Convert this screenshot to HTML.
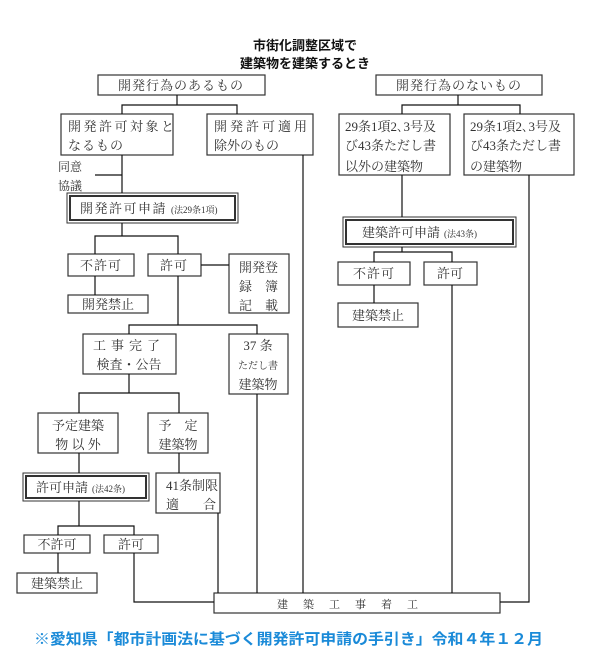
<!DOCTYPE html>
<html><head><meta charset="utf-8"><style>
html,body{margin:0;padding:0;background:#fff;}
svg{display:block;}
text{font-family:"Liberation Serif","Noto Serif CJK SC","Noto Sans CJK JP",serif;font-size:13px;fill:#333;}
.t{font-family:"Liberation Sans","Noto Sans CJK JP",sans-serif;font-weight:bold;fill:#111;font-size:13px;}
.s{font-size:9px;}
.b{font-family:"Liberation Sans","Noto Sans CJK JP",sans-serif;font-weight:bold;fill:#1a8ad8;font-size:15px;}
</style></head><body>
<svg width="609" height="669" viewBox="0 0 609 669" xmlns="http://www.w3.org/2000/svg">
<g fill="#fff" stroke="#333" stroke-width="1.2">
<rect x="98" y="75" width="167" height="20"/>
<rect x="61" y="114" width="112" height="41"/>
<rect x="207" y="114" width="106" height="41"/>
<rect x="67" y="193" width="171" height="30" stroke-width="1"/>
<rect x="70" y="196" width="165" height="24" stroke-width="2"/>
<rect x="68" y="254" width="66" height="22"/>
<rect x="148" y="254" width="53" height="22"/>
<rect x="229" y="254" width="60" height="59"/>
<rect x="68" y="295" width="80" height="18"/>
<rect x="83" y="334" width="93" height="40"/>
<rect x="229" y="334" width="59" height="60"/>
<rect x="38" y="413" width="80" height="40"/>
<rect x="148" y="413" width="60" height="40"/>
<rect x="23" y="473" width="126" height="28" stroke-width="1"/>
<rect x="26" y="476" width="120" height="22" stroke-width="2"/>
<rect x="156" y="473" width="64" height="40"/>
<rect x="24" y="535" width="66" height="18"/>
<rect x="104" y="535" width="54" height="18"/>
<rect x="17" y="573" width="80" height="20"/>
<rect x="214" y="593" width="286" height="20"/>
<rect x="376" y="75" width="166" height="20"/>
<rect x="339" y="114" width="111" height="61"/>
<rect x="464" y="114" width="110" height="61"/>
<rect x="343" y="217" width="173" height="30" stroke-width="1"/>
<rect x="346" y="220" width="167" height="24" stroke-width="2"/>
<rect x="338" y="262" width="72" height="23"/>
<rect x="424" y="262" width="53" height="23"/>
<rect x="338" y="303" width="80" height="24"/>
</g>
<g fill="none" stroke="#111" stroke-width="1.2">
<path d="M177 95V105M122 114V105H237V114"/>
<path d="M122 155V193M95 175H122"/>
<path d="M122 223V236M95 254V236H178V254"/>
<path d="M201 265H229M95 276V295"/>
<path d="M178 276V325M129 334V325H257V334"/>
<path d="M303 155V593"/>
<path d="M129 374V393M79 413V393H179V413"/>
<path d="M79 453V473M179 453V473"/>
<path d="M79 501V526M58 535V526H134V535"/>
<path d="M58 553V573M134 553V602H214"/>
<path d="M218 513V593M257 394V593"/>
<path d="M458 95V105M402 114V105H520V114"/>
<path d="M402 175V217M402 247V252M374 262V252H452V262"/>
<path d="M374 285V303M452 285V593"/>
<path d="M529 175V602H500"/>
</g>
<text class="t" x="305" y="50" text-anchor="middle">市街化調整区域で</text>
<text class="t" x="305" y="68" text-anchor="middle">建築物を建築するとき</text>
<text x="181" y="90" text-anchor="middle" letter-spacing="1">開発行為のあるもの</text>
<text x="68" y="131" letter-spacing="2.5">開発許可対象と</text>
<text x="68" y="150" letter-spacing="1">なるもの</text>
<text x="214" y="131" letter-spacing="3">開発許可適用</text>
<text x="214" y="150">除外のもの</text>
<text x="58" y="171" style="font-size:12px">同意</text>
<text x="58" y="190" style="font-size:12px">協議</text>
<text x="80" y="213" letter-spacing="1.5">開発許可申請<tspan class="s" dx="4" style="letter-spacing:0">(法29条1項)</tspan></text>
<text x="101" y="270" text-anchor="middle" letter-spacing="1">不許可</text>
<text x="174" y="270" text-anchor="middle" letter-spacing="1">許可</text>
<text x="239" y="272">開発登</text>
<text x="239" y="291">録　簿</text>
<text x="239" y="310">記　載</text>
<text x="108" y="309" text-anchor="middle">開発禁止</text>
<text x="129" y="350" text-anchor="middle" letter-spacing="5">工事完了</text>
<text x="129" y="369" text-anchor="middle">検査・公告</text>
<text x="258" y="350" text-anchor="middle">37 条</text>
<text x="258" y="369" text-anchor="middle" style="font-size:10px">ただし書</text>
<text x="258" y="389" text-anchor="middle">建築物</text>
<text x="78" y="430" text-anchor="middle">予定建築</text>
<text x="78" y="449" text-anchor="middle">物 以 外</text>
<text x="178" y="430" text-anchor="middle">予　定</text>
<text x="178" y="449" text-anchor="middle">建築物</text>
<text x="36" y="492">許可申請<tspan class="s" dx="4">(法42条)</tspan></text>
<text x="166" y="490">41条制限</text>
<text x="166" y="509">適</text><text x="203" y="509">合</text>
<text x="57" y="549" text-anchor="middle">不許可</text>
<text x="131" y="549" text-anchor="middle">許可</text>
<text x="57" y="588" text-anchor="middle">建築禁止</text>
<text x="355" y="608" text-anchor="middle" style="font-size:11px" letter-spacing="15">建築工事着工</text>
<text x="459" y="90" text-anchor="middle" letter-spacing="1">開発行為のないもの</text>
<text x="345" y="131">29条1項2､3号及</text>
<text x="345" y="150">び43条ただし書</text>
<text x="345" y="171">以外の建築物</text>
<text x="470" y="131">29条1項2､3号及</text>
<text x="470" y="150">び43条ただし書</text>
<text x="470" y="171">の建築物</text>
<text x="362" y="237">建築許可申請<tspan class="s" dx="4">(法43条)</tspan></text>
<text x="374" y="278" text-anchor="middle" letter-spacing="1">不許可</text>
<text x="450" y="278" text-anchor="middle">許可</text>
<text x="378" y="320" text-anchor="middle">建築禁止</text>
<text class="b" x="34" y="644" textLength="509" lengthAdjust="spacingAndGlyphs">※愛知県「都市計画法に基づく開発許可申請の手引き」令和４年１２月</text>
</svg>
</body></html>
